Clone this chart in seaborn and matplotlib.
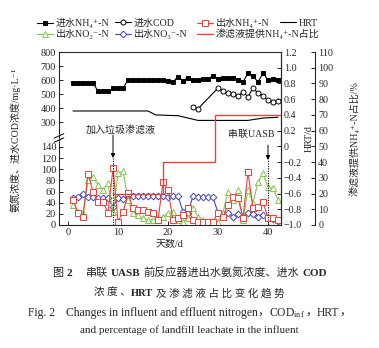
import numpy as np
import pandas as pd
import matplotlib
matplotlib.use('Agg')
import matplotlib.pyplot as plt
import seaborn as sns
from matplotlib.ticker import FuncFormatter

# ---------------- data ----------------
days = list(range(1, 43))
nh4_in = [580, 580, 580, 580, 580, 520, 520, 520, 540, 540, 540, 600, 600, 600, 600, 600, 600, 600, 600,
          595, 585, 625, 595, 615, 600, 600, 605, 605, 630, 610, 615, 615, 615, 600, 585, 650, 630, 585,
          650, 600, 610, 600]
nh4_out = [45, 22, 14, 92, 60, 41, 41, 22, 102, 6, 23, 57, 30, 27, 27, 23, 22, 9, 77, 63, 9, 13, 18, 30, 9,
           6, 6, 6, 6, 22, 15, 36, 50, 48, 13, 95, 30, 33, 41, 13, 13, 9]
no2_out = [36, 23, 22, 80, 86, 72, 63, 75, 23, 93, 97, 45, 22, 18, 12, 9, 9, 12, 15, 22, 23, 9, 6, 12, 30,
           15, 9, 6, 6, 6, 22, 60, 45, 63, 9, 63, 40, 77, 93, 68, 66, 45]
no3_out = [48, 50, 55, 50, 50, 48, 48, 48, 33, 48, 46, 52, 52, 52, 52, 52, 52, 52, 52, 50, 52, 52, 24, 22,
           52, 50, 50, 50, 50, 22, 20, 22, 14, 20, 14, 22, 20, 15, 18, 12, 10, 8]
cod_days = [25, 26, 30, 31, 32, 33, 34, 35, 36, 37, 38, 39, 40, 41, 42]
cod_in = [410, 395, 543, 525, 505, 500, 486, 515, 480, 543, 507, 485, 457, 443, 450]
hrt_days = [1, 16, 17.5, 22, 26, 36, 39, 42]
hrt = [0.45, 0.45, 0.40, 0.39, 0.33, 0.33, 0.36, 0.37]
share_days = [9, 19, 29.5, 42.6]
share = [20, 40, 70, 70]
event_days = [9, 40]
event_labels = ['加入垃圾渗滤液', '串联UASB']

left_ticks = [0, 20, 40, 60, 80, 100, 120, 140, 300, 400, 500, 600, 700, 800]
hrt_ticks = [-1.0, -0.8, -0.6, -0.4, -0.2, 0.0, 0.2, 0.4, 0.6, 0.8, 1.0, 1.2]
pct_ticks = list(range(0, 111, 10))
x_ticks = [0, 10, 20, 30, 40]

labels = ['进水NH₄⁺-N', '进水COD', '出水NH₄⁺-N', 'HRT',
          '出水NO₂⁻-N', '出水NO₃⁻-N', '渗滤液提供NH₄⁺-N占比']

# ---------------- style ----------------
sns.set_style('ticks')
plt.rcParams['font.family'] = ['Liberation Serif', 'Noto Sans CJK SC', 'DejaVu Serif']
plt.rcParams['mathtext.fontset'] = 'stix'
plt.rcParams['axes.linewidth'] = 0.8
plt.rcParams['xtick.major.width'] = 0.7
plt.rcParams['ytick.major.width'] = 0.7
FS = 7.2

RED = '#e5433b'
GREEN = '#86c552'
BLUE = '#4747c4'

W, H = 379, 348
fig = plt.figure(figsize=(W / 100, H / 100), dpi=100)
ax = fig.add_axes([59 / W, 1 - 225 / H, (281 - 59) / W, (225 - 52) / H])

# broken left axis via a piecewise-linear function scale
brk_v = np.array([0, 140, 300, 800], dtype=float)
brk_u = np.array([0, 0.451, 0.595, 1.0])
ax.set_yscale('function', functions=(lambda v: np.interp(v, brk_v, brk_u),
                                     lambda u: np.interp(u, brk_u, brk_v)))
ax.set_ylim(0, 800)
ax.set_xlim(-1.8, 42.6)


def draw(axis, x, y, color, marker=None, mfc=None, ms=3.6, lw=0.8, **kw):
    sns.lineplot(x=x, y=y, ax=axis, color=color, marker=marker, markersize=ms,
                 markerfacecolor=mfc, markeredgecolor=color, markeredgewidth=0.7,
                 linewidth=lw, legend=False, errorbar=None, sort=False, **kw)
    return axis.lines[-1]


h_no3 = draw(ax, days, no3_out, BLUE, 'D', 'white', ms=3.4)
h_no2 = draw(ax, days, no2_out, GREEN, '^', 'white', ms=4.0)
h_nh4o = draw(ax, days, nh4_out, RED, 's', 'white', ms=3.8)
h_nh4i = draw(ax, days, nh4_in, 'black', 's', 'black', ms=3.0)
h_cod = draw(ax, cod_days, cod_in, 'black', 'o', 'white', ms=3.6)

ax.set_yticks(left_ticks)
ax.set_yticklabels([str(t) for t in left_ticks])
ax.set_xticks(x_ticks)
ax.tick_params(direction='in', length=3, labelsize=FS + 0.3, pad=2)
ax.set_xlabel('天数/d', fontsize=FS, labelpad=2)
ax.set_ylabel('氨氮浓度、进水COD浓度/mg·L⁻¹', fontsize=FS)
ax.yaxis.set_label_coords(-0.175, 0.49)

# axis break marks
for du in (-0.012, 0.012):
    ax.plot([-0.022, 0.022], [0.49 + du, 0.516 + du], transform=ax.transAxes,
            clip_on=False, color='black', lw=0.7)

# HRT axis
ax2 = ax.twinx()
h_hrt = draw(ax2, hrt_days, hrt, 'black', None, None, lw=0.8)
ax2.set_ylim(-1.0, 1.2)
ax2.set_yticks(hrt_ticks)
ax2.yaxis.set_major_formatter(FuncFormatter(
    lambda v, p: '0' if abs(v) < 1e-9 else f'{v:.1f}'.replace('-', '\u2212')))
ax2.tick_params(direction='in', length=3, labelsize=FS, pad=2)
ax2.set_ylabel('HRT/d', fontsize=FS)
ax2.yaxis.set_label_coords(1.105, 0.5)

# percentage axis
ax3 = ax.twinx()
ax3.spines['right'].set_position(('axes', 1.155))
h_share = draw(ax3, share_days, share, RED, None, None, lw=1.0, drawstyle='steps-post')
ax3.set_ylim(0, 110)
ax3.set_yticks(pct_ticks)
ax3.tick_params(direction='in', length=3, labelsize=FS, pad=2)
ax3.set_ylabel('渗滤液提供NH₄⁺-N占比/%', fontsize=FS)
ax3.yaxis.set_label_coords(1.305, 0.5)
for a in (ax2, ax3):
    a.spines['left'].set_visible(False)
    a.spines['top'].set_visible(False)
    a.spines['bottom'].set_visible(False)

# events: text, arrow, dotted line
text_pos = [(10.6, 0.549), (36.6, 0.526)]
arrow_pos = [(0.520, 0.387), (0.462, 0.376)]
trans = ax.get_xaxis_transform()
for d, lab, (tx, ty), (ut, uh) in zip(event_days, event_labels, text_pos, arrow_pos):
    ax.text(tx, ty, lab, transform=trans, ha='center', va='center', fontsize=FS)
    ax.annotate('', xy=(d, uh), xycoords=trans, xytext=(d, ut), textcoords=trans,
                arrowprops=dict(arrowstyle='-|>', color='black', lw=0.7,
                                mutation_scale=6, shrinkA=0, shrinkB=0))
    ax.plot([d, d], [0, uh], transform=trans, color='black', lw=0.8, ls=(0, (1, 1.2)))

# legend, one entry per position
handles = [h_nh4i, h_cod, h_nh4o, h_hrt, h_no2, h_no3, h_share]
leg_pos = [(37, 23), (115, 23), (197, 23), (280, 23), (37, 34), (115, 34), (197, 34)]
for hd, lab, (px, py) in zip(handles, labels, leg_pos):
    fig.legend([hd], [lab], loc='center left', bbox_to_anchor=(px / W, 1 - py / H),
               frameon=False, fontsize=FS, handlelength=1.6, handletextpad=0.3,
               borderpad=0, borderaxespad=0)

# caption
renderer = fig.canvas.get_renderer()


def rich_line(y_px, parts, size):
    objs, widths = [], []
    for s, w, gap in parts:
        t = fig.text(0, 1 - y_px / H, s, fontsize=size, fontweight=w, va='center', ha='left')
        objs.append(t)
        widths.append(t.get_window_extent(renderer).width + gap)
    x = (W - sum(widths)) / 2
    for t, wd in zip(objs, widths):
        t.set_x(x / W)
        x += wd


rich_line(273, [('图', 'normal', 3), ('2', 'bold', 14), ('串联', 'normal', 3), ('UASB', 'bold', 3),
                ('前反应器进出水氨氮浓度、进水', 'normal', 3), ('COD', 'bold', 0)], 8)
rich_line(293, [('浓 度 、', 'normal', 0), ('HRT', 'bold', 3), ('及 渗 滤 液 占 比 变 化 趋 势', 'normal', 0)], 7.6)
rich_line(313, [('Fig. 2', 'normal', 11),
                ('Changes in influent and effluent nitrogen', 'normal', 0), ('，', 'normal', 0),
                ('COD$_{\\rm inf}$', 'normal', 0), ('，', 'normal', 0),
                ('HRT', 'normal', 0), ('，', 'normal', 0)], 8.4)
rich_line(330, [('and percentage of landfill leachate in the influent', 'normal', 0)], 8)

fig.savefig('out.png', dpi=100)
